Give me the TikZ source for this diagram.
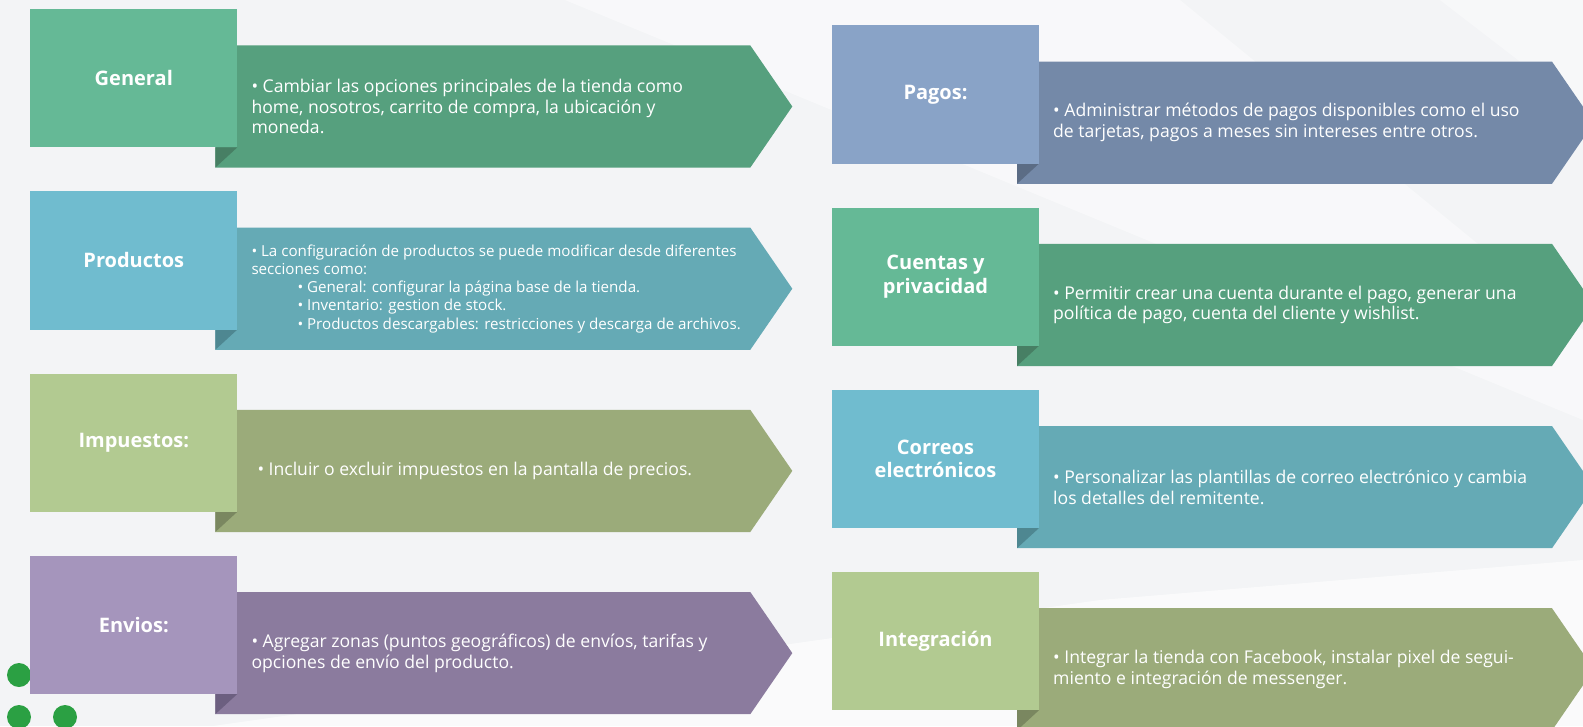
\documentclass[tikz,border=0pt]{standalone}
\usepackage{fontspec}
\setmainfont{Open Sans}
\definecolor{bgc}{HTML}{F3F4F6}
\definecolor{greenbox}{HTML}{65B996}
\definecolor{greenarr}{HTML}{56A07E}
\definecolor{greenfold}{HTML}{477F64}
\definecolor{tealbox}{HTML}{70BCCF}
\definecolor{tealarr}{HTML}{65AAB5}
\definecolor{tealfold}{HTML}{4E8791}
\definecolor{olivebox}{HTML}{B2CA91}
\definecolor{olivearr}{HTML}{9BAB7A}
\definecolor{olivefold}{HTML}{7A8760}
\definecolor{purplebox}{HTML}{A595BC}
\definecolor{purplearr}{HTML}{8B7B9E}
\definecolor{purplefold}{HTML}{6C5F80}
\definecolor{bluebox}{HTML}{89A3C7}
\definecolor{bluearr}{HTML}{7489A8}
\definecolor{bluefold}{HTML}{5B6C85}
\definecolor{dotc}{HTML}{2BA043}
\tikzset{
  labelbox/.style={rectangle, minimum width=207pt, minimum height=138.3pt, inner sep=0pt,
    text=white, align=center, font=\fontsize{20}{23.5}\selectfont\bfseries},
  bodytext/.style={anchor=west, inner sep=0pt, text=white, align=left,
    font=\fontsize{17.6}{20.7}\selectfont},
  smalltext/.style={bodytext, font=\fontsize{15.15}{18.2}\selectfont},
  greendot/.style={circle, fill=dotc, minimum size=24pt, inner sep=0pt}
}
\newcommand\mypanel[7]{%
  \begin{scope}[shift={(#2,#3)}]
    \fill[#4arr] (185,36.3) -- (720,36.3) -- (762,97.4) -- (720,158.5) -- (185,158.5) -- cycle;
    \fill[#4fold] (185,138.3) -- (207,138.3) -- (185,158.5) -- cycle;
    \node[labelbox, fill=#4box] (#1-label) at (103.5,69.15) {#5};
    \node[#7] (#1-body) at (221,97.4) {#6};
  \end{scope}}
\begin{document}
\begin{tikzpicture}[x=1pt,y=-1pt]
\useasboundingbox (0,0) rectangle (1583,726);
\clip (0,0) rectangle (1583,726);
\fill[bgc] (0,0) rectangle (1583,726);
% faint background facets
\fill[white, opacity=0.45] (565,0) -- (1180,0) -- (1583,330) -- (1583,420) -- cycle;
\fill[white, opacity=0.4] (1440,0) -- (1583,0) -- (1583,110) -- cycle;
\fill[white, opacity=0.6] (213,726) -- (1100,600) -- (1583,560) -- (1583,726) -- cycle;
% dots
\node[greendot] (d1) at (19,675) {};
\node[greendot] (d2) at (19,717) {};
\node[greendot] (d3) at (65,717) {};
% left column
\mypanel{general}{30.3}{9.1}{green}{General}{• Cambiar las opciones principales de la tienda como\\home, nosotros, carrito de compra, la ubicación y\\moneda.}{bodytext}
\mypanel{productos}{30.3}{191.3}{teal}{Productos}{• La configuración de productos se puede modificar desde diferentes\\secciones como:\\\hspace*{46pt}• General: configurar la página base de la tienda.\\\hspace*{46pt}• Inventario: gestion de stock.\\\hspace*{46pt}• Productos descargables: restricciones y descarga de archivos.}{smalltext}
\mypanel{impuestos}{30.3}{373.5}{olive}{Impuestos:}{\hspace*{6pt}• Incluir o excluir impuestos en la pantalla de precios.}{bodytext}
\mypanel{envios}{30.3}{555.7}{purple}{Envios:}{• Agregar zonas (puntos geográficos) de envíos, tarifas y\\opciones de envío del producto.}{bodytext}
% right column
\mypanel{pagos}{832}{25.3}{blue}{Pagos:}{• Administrar métodos de pagos disponibles como el uso\\de tarjetas, pagos a meses sin intereses entre otros.}{bodytext}
\mypanel{cuentas}{832}{207.5}{green}{Cuentas y\\privacidad}{• Permitir crear una cuenta durante el pago, generar una\\política de pago, cuenta del cliente y wishlist.}{bodytext}
\mypanel{correos}{832}{389.7}{teal}{Correos\\electrónicos}{• Personalizar las plantillas de correo electrónico y cambia\\los detalles del remitente.}{bodytext}
\mypanel{integracion}{832}{571.9}{olive}{Integración}{• Integrar la tienda con Facebook, instalar pixel de segui-\\miento e integración de messenger.}{bodytext}
\end{tikzpicture}
\end{document}
